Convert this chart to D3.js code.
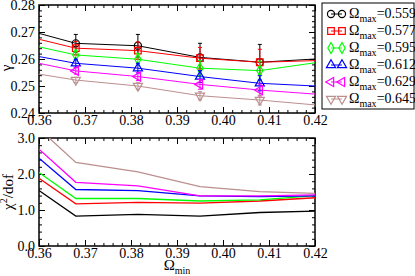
<!DOCTYPE html>
<html>
<head>
<meta charset="utf-8">
<script src="https://cdn.jsdelivr.net/npm/d3@7"></script>
<style>
  body { margin: 0; background: #fff; }
  svg { display: block; font-family: "Liberation Serif", "DejaVu Serif", serif; }
</style>
</head>
<body>
<svg id="chart" width="415" height="276"></svg>
<script>
// datos
const omegaMin = [0.36, 0.368, 0.3815, 0.395, 0.408, 0.42]
const omegaMax = ['0.559', '0.577', '0.595', '0.612', '0.629', '0.645']
const colores = ['#000000', '#ff0000', '#00ff00', '#0000ff', '#ff00ff', '#bc8f8f']

const gamma = [
  [0.2695, 0.2658, 0.2649, 0.2606, 0.2588, 0.2600],
  [0.2673, 0.2640, 0.2631, 0.2603, 0.2588, 0.2594],
  [0.2645, 0.2615, 0.2599, 0.2566, 0.2557, 0.2586],
  [0.2609, 0.2584, 0.2566, 0.2535, 0.2510, 0.2500],
  [0.2584, 0.2556, 0.2535, 0.2506, 0.2485, 0.2470],
  [0.2544, 0.2522, 0.2500, 0.2464, 0.2448, 0.2430]
]
const gammaErr = [
  [0, 0.0033, 0.0042, 0.0052, 0.0066, 0],
  [0, 0.0025, 0.0032, 0.0040, 0.0048, 0],
  [0, 0.0018, 0.0022, 0.0028, 0.0035, 0],
  [0, 0.0015, 0.0018, 0.0022, 0.0028, 0],
  [0, 0.0012, 0.0015, 0.0018, 0.0022, 0],
  [0, 0.0010, 0.0012, 0.0015, 0.0018, 0]
]
const chi2 = [
  [1.54, 0.83, 0.88, 0.83, 0.93, 0.97],
  [1.88, 1.17, 1.21, 1.19, 1.25, 1.34],
  [2.04, 1.32, 1.32, 1.25, 1.28, 1.40],
  [2.44, 1.57, 1.54, 1.39, 1.37, 1.39],
  [2.69, 1.77, 1.67, 1.39, 1.39, 1.42],
  [3.26, 2.32, 2.06, 1.65, 1.51, 1.46]
]

const xTicks = [0.36, 0.37, 0.38, 0.39, 0.40, 0.41, 0.42]
const gammaTicks = [0.24, 0.25, 0.26, 0.27, 0.28]
const chiTicks = [0, 1, 2, 3]

// simbolos (tipo, rotacion)
const simbolos = [
  [d3.symbolCircle, 0, 40],
  [d3.symbolSquare, 0, 44],
  [d3.symbolDiamond, 0, 34],
  [d3.symbolTriangle, 0, 36],
  [d3.symbolTriangle, -90, 36],
  [d3.symbolTriangle, 180, 36]
]

const svg = d3.select('#chart')
const left = 39, right = 315

const x = d3.scaleLinear().domain([0.36, 0.42]).range([left, right])
const yTop = d3.scaleLinear().domain([0.24, 0.28]).range([113, 5])
const yBot = d3.scaleLinear().domain([0, 3]).range([246, 138])

const defs = svg.append('defs')
defs.append('clipPath').attr('id', 'clipTop')
  .append('rect').attr('x', left).attr('y', 5).attr('width', right - left).attr('height', 108)
defs.append('clipPath').attr('id', 'clipBot')
  .append('rect').attr('x', left).attr('y', 138).attr('width', right - left).attr('height', 108)

//ejes con ticks hacia adentro
function marco(y, yMinor, fmtY, conLabelsX) {
  const y0 = y.range()[0], y1 = y.range()[1]
  const minorX = d3.range(0.36, 0.4201, 0.002)
  const g = svg.append('g')

  const ejes = [
    [d3.axisBottom(x).tickValues(xTicks).tickSize(-6).tickFormat(conLabelsX ? d3.format('.2f') : ''), `translate(0,${y0})`],
    [d3.axisBottom(x).tickValues(minorX).tickSize(-3).tickFormat(''), `translate(0,${y0})`],
    [d3.axisTop(x).tickValues(xTicks).tickSize(-6).tickFormat(''), `translate(0,${y1})`],
    [d3.axisTop(x).tickValues(minorX).tickSize(-3).tickFormat(''), `translate(0,${y1})`],
    [d3.axisLeft(y).tickValues(y.ticks ? null : null).tickSize(-6).tickFormat(fmtY), `translate(${left},0)`],
    [d3.axisLeft(y).tickValues(yMinor).tickSize(-3).tickFormat(''), `translate(${left},0)`],
    [d3.axisRight(y).tickSize(-6).tickFormat(''), `translate(${right},0)`],
    [d3.axisRight(y).tickValues(yMinor).tickSize(-3).tickFormat(''), `translate(${right},0)`]
  ]
  return { g, ejes }
}

function dibujarEjes(y, major, minor, fmtY, etiquetasX) {
  const { g, ejes } = marco(y, minor, fmtY, etiquetasX)
  ejes.forEach(([eje, tr], i) => {
    if (i === 4 || i === 6) eje.tickValues(major)
    const a = g.append('g').attr('transform', tr).call(eje)
    a.select('.domain').remove()
    a.selectAll('line').attr('stroke', '#000').attr('stroke-width', 1)
    a.selectAll('text').attr('font-size', '14px').attr('fill', '#000')
      .attr('font-family', '"Liberation Serif", serif')
  })
  g.selectAll('text').filter(function () { return this.textContent === '' }).remove()
  const y0 = y.range()[0], y1 = y.range()[1]
  g.append('rect').attr('x', left).attr('y', y1).attr('width', right - left).attr('height', y0 - y1)
    .attr('fill', 'none').attr('stroke', '#000').attr('stroke-width', 1.5)
  return g
}

//panel de arriba
const gTop = dibujarEjes(yTop, gammaTicks, d3.range(0.24, 0.2801, 0.002), d3.format('.2f'), true)
gTop.selectAll('.tick text').each(function () {
  const t = d3.select(this)
  if (t.attr('dy') === '0.71em') t.attr('y', 2)
  else t.attr('x', -4)
})

const linea = d3.line().x((d, i) => x(omegaMin[i]))

const capaTop = svg.append('g').attr('clip-path', 'url(#clipTop)')
gamma.forEach((serie, s) => {
  capaTop.append('path')
    .attr('d', linea.y(d => yTop(d))(serie))
    .attr('fill', 'none').attr('stroke', colores[s]).attr('stroke-width', 1)
})

//barras de error y simbolos
gamma.forEach((serie, s) => {
  const g = svg.append('g')
  serie.forEach((v, i) => {
    const xv = omegaMin[i]
    if (xv <= 0.36 || xv >= 0.42) return
    const e = gammaErr[s][i]
    const px = x(xv)
    g.append('line').attr('x1', px).attr('x2', px)
      .attr('y1', yTop(v + e)).attr('y2', yTop(v - e))
      .attr('stroke', colores[s]).attr('stroke-width', 1)
    ;[v + e, v - e].forEach(c => {
      g.append('line').attr('x1', px - 2).attr('x2', px + 2)
        .attr('y1', yTop(c)).attr('y2', yTop(c))
        .attr('stroke', colores[s]).attr('stroke-width', 1)
    })
  })
  serie.forEach((v, i) => {
    const xv = omegaMin[i]
    if (xv <= 0.36 || xv >= 0.42) return
    const [tipo, rot, size] = simbolos[s]
    g.append('path')
      .attr('d', d3.symbol().type(tipo).size(size)())
      .attr('transform', `translate(${x(xv)},${yTop(v)}) rotate(${rot})`)
      .attr('fill', 'none').attr('stroke', colores[s]).attr('stroke-width', 1.2)
  })
})

//titulo eje y arriba
svg.append('text')
  .text('γ')
  .attr('transform', 'translate(11,68) rotate(-90)')
  .attr('text-anchor', 'middle')
  .attr('font-size', '15px')
  .attr('fill', '#000')

//panel de abajo
const gBot = dibujarEjes(yBot, chiTicks, d3.range(0, 3.001, 0.2), d3.format('.1f'), true)
gBot.selectAll('.tick text').each(function () {
  const t = d3.select(this)
  if (t.attr('dy') === '0.71em') t.attr('y', 2)
  else t.attr('x', -4)
})

const capaBot = svg.append('g').attr('clip-path', 'url(#clipBot)')
chi2.forEach((serie, s) => {
  capaBot.append('path')
    .attr('d', linea.y(d => yBot(d))(serie))
    .attr('fill', 'none').attr('stroke', colores[s]).attr('stroke-width', 1.3)
})

//titulo eje y abajo
const chiTitulo = svg.append('text')
  .attr('transform', 'translate(13,192) rotate(-90)')
  .attr('text-anchor', 'middle')
  .attr('font-size', '15px')
  .attr('fill', '#000')
chiTitulo.append('tspan').text('χ')
chiTitulo.append('tspan').text('2').attr('font-size', '10px').attr('dy', -6)
chiTitulo.append('tspan').text('/dof').attr('dy', 6)

//titulo eje x
const xTitulo = svg.append('text')
  .attr('x', 177).attr('y', 270)
  .attr('text-anchor', 'middle')
  .attr('font-size', '15px')
  .attr('fill', '#000')
xTitulo.append('tspan').text('Ω')
xTitulo.append('tspan').text('min').attr('font-size', '10px').attr('dy', 4)

//leyenda
const leyenda = svg.append('g')
leyenda.append('rect')
  .attr('x', 322).attr('y', 3).attr('width', 92).attr('height', 106)
  .attr('fill', '#fff').attr('stroke', '#000').attr('stroke-width', 1)

omegaMax.forEach((m, s) => {
  const cy = 14 + s * 17
  leyenda.append('line').attr('x1', 331).attr('x2', 342).attr('y1', cy).attr('y2', cy)
    .attr('stroke', colores[s]).attr('stroke-width', 1)
  const [tipo, rot, size] = simbolos[s]
  ;[331, 342].forEach(px => {
    leyenda.append('path')
      .attr('d', d3.symbol().type(tipo).size(size)())
      .attr('transform', `translate(${px},${cy}) rotate(${rot})`)
      .attr('fill', 'none').attr('stroke', colores[s]).attr('stroke-width', 1.2)
  })
  const t = leyenda.append('text')
    .attr('x', 349).attr('y', cy + 4)
    .attr('font-size', '14px').attr('fill', '#000')
  t.append('tspan').text('Ω')
  t.append('tspan').text('max').attr('font-size', '10px').attr('dy', 4)
  t.append('tspan').text('=' + m).attr('dy', -4)
})
</script>
</body>
</html>
